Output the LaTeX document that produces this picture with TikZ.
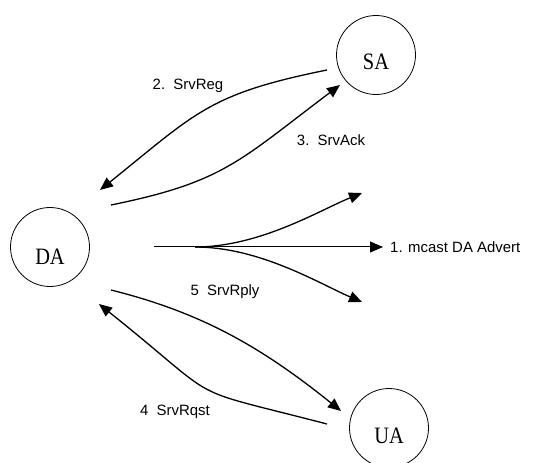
\documentclass[tikz,border=0pt]{standalone}
\usepackage{fontspec}
\setmainfont{Liberation Serif}
\newfontfamily\lblfont{Liberation Sans}
\usetikzlibrary{arrows.meta}
\begin{document}
\begin{tikzpicture}[x=1bp,y=-1bp,
  agent/.style={draw,circle,minimum size=79bp,inner sep=0pt,line width=0.8bp},
  agenttext/.style={font=\fontsize{20.5}{21}\selectfont,inner sep=0pt},
  msg/.style={line width=1.3bp,-{Triangle[length=13bp,width=11bp]}},
  lbl/.style={font=\lblfont\fontsize{15}{16}\selectfont,inner sep=0pt}]
\useasboundingbox (0,0) rectangle (550,463);
\node[agent] (SA) at (376,55) {};
\node[agent] (DA) at (50,247) {};
\node[agent] (UA) at (389,428) {};
\node[agenttext] (SAt) at (376,62) {\scalebox{1}[1.15]{SA}};
\node[agenttext] (DAt) at (50,257) {\scalebox{1}[1.15]{DA}};
\node[agenttext] (UAt) at (389,436) {\scalebox{1}[1.15]{UA}};
% endpoints
\coordinate (regS) at (327,70);
\coordinate (regE) at (100,190);
\coordinate (ackS) at (111,205);
\coordinate (ackE) at (340,85);
\coordinate (mS) at (154,247);
\coordinate (mF) at (195,247);
\coordinate (mE) at (383,247);
\coordinate (mU) at (362,193);
\coordinate (mL) at (362,302);
\coordinate (rpS) at (111,290);
\coordinate (rpE) at (341,411);
\coordinate (rqS) at (327,424);
\coordinate (rqE) at (99,304);
\draw[msg] (regS) .. controls (208,94) and (196,113) .. (regE);
\draw[msg] (ackS) .. controls (224,182) and (239,161) .. (ackE);
\draw[msg,line width=1bp] (mS) -- (mE);
\draw[msg] (mF) .. controls (260,247) and (320,210) .. (mU);
\draw[msg] (mF) .. controls (260,247) and (320,284) .. (mL);
\draw[msg] (rpS) .. controls (199,312) and (259,345) .. (rpE);
\draw[msg] (rqS) .. controls (177,385) and (228,407) .. (rqE);
\node[lbl,anchor=west] (l1) at (390,247) {1. mcast DA Advert};
\node[lbl] (l2) at (188,86) {2.\ \ SrvReg};
\node[lbl] (l3) at (331,140) {3.\ \ SrvAck};
\node[lbl] (l5) at (225,292) {5\ \ SrvRply};
\node[lbl] (l4) at (175,412) {4\ \ SrvRqst};
\end{tikzpicture}
\end{document}
